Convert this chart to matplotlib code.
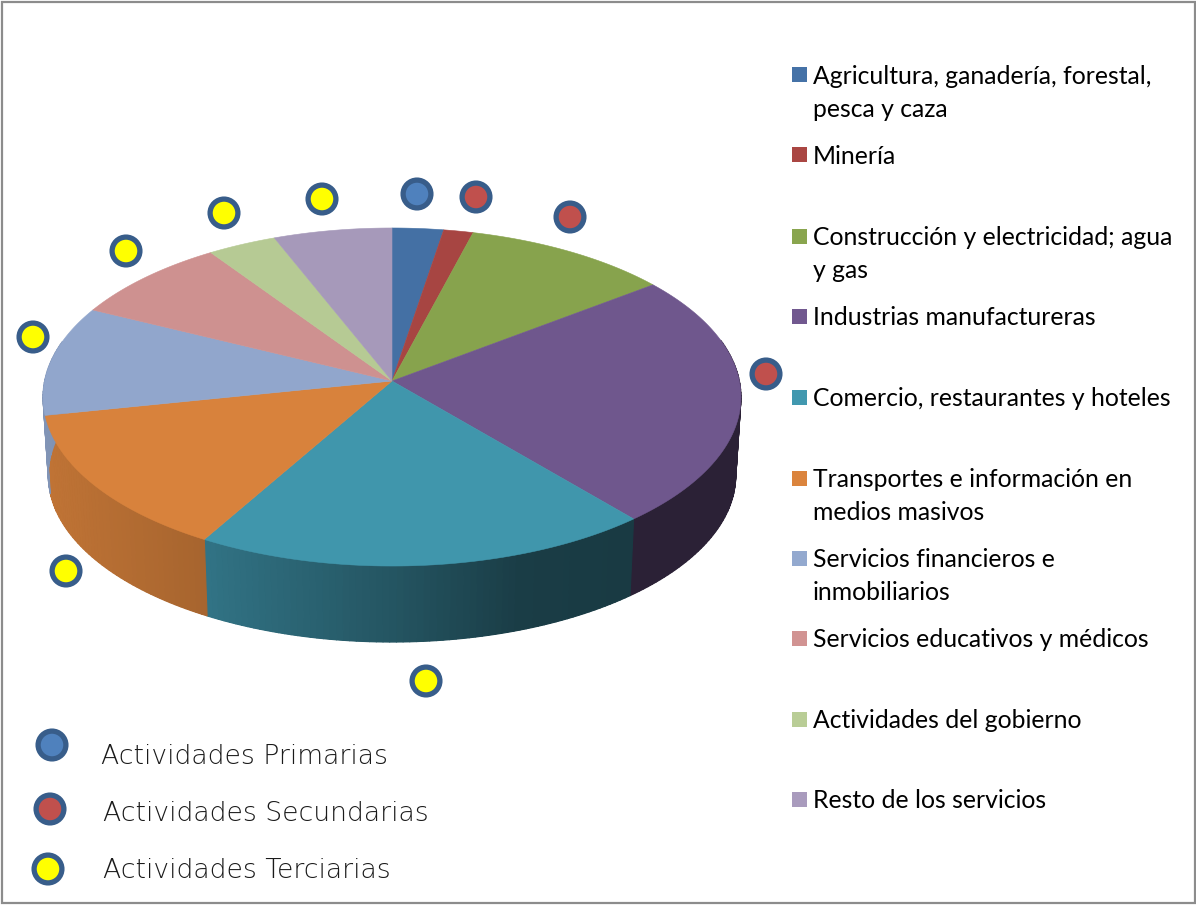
import numpy as np
import matplotlib
matplotlib.use("Agg")
import matplotlib.pyplot as plt
from matplotlib.patches import Polygon, Circle, Rectangle
from matplotlib.collections import PolyCollection
from matplotlib.colors import to_rgb

categories = ["Agricultura, ganadería, forestal,\npesca y caza", "Minería",
              "Construcción y electricidad; agua\ny gas", "Industrias manufactureras",
              "Comercio, restaurantes y hoteles", "Transportes e información en\nmedios masivos",
              "Servicios financieros e\ninmobiliarios", "Servicios educativos y médicos",
              "Actividades del gobierno", "Resto de los servicios"]
values = [2.6, 1.5, 10.5, 24.2, 19.4, 13.5, 10.5, 8.2, 3.5, 6.0]
colors = ["#4572A7", "#AA4643", "#89A54E", "#71588F", "#4198AF",
          "#DB843D", "#93A9CF", "#D19392", "#B9CD96", "#A99BBD"]
sector = ["P", "S", "S", "S", "T", "T", "T", "T", "T", "T"]
sector_names = ["Actividades Primarias", "Actividades Secundarias", "Actividades Terciarias"]
sector_colors = {"P": "#4F81BD", "S": "#C0504D", "T": "#FFFF00"}

fig = plt.figure(figsize=(11.96, 9.05), dpi=100)
ax = fig.add_axes([0, 0, 1, 1])
ax.set_xlim(0, 1196)
ax.set_ylim(905, 0)
ax.axis("off")

cx, cy, a, b, k = 392.0, 381.0, 347.4, 167.5, 0.0947
depth, shrink = 78.8, 0.985


def project(theta, lower=False):
    X, Y = np.sin(theta), np.cos(theta)
    w = 1 + k * Y
    sx, sy = a * X / w, -b * Y / w
    if lower:
        return cx + shrink * sx, cy + depth + shrink * sy
    return cx + sx, cy + sy


edges = np.concatenate([[0], np.cumsum(values)]) / np.sum(values) * 2 * np.pi

# side wall: an opaque underlay per slice, then the shaded strips on top of it
shade_x = [40, 205, 400, 520, 640, 745]
shade_v = [0.88, 0.76, 0.55, 0.40, 0.38, 0.38]
for i, col in enumerate(colors):
    n = max(2, int(np.degrees(edges[i + 1] - edges[i])))
    t = np.linspace(edges[i], edges[i + 1], n + 1)
    t = t[np.cos(t) < 0.25]
    if len(t) < 2:
        continue
    rgb = np.array(to_rgb(col))
    xt, yt = project(t)
    xb, yb = project(t, True)
    shades = np.interp((xt[:-1] + xt[1:]) / 2, shade_x, shade_v)
    mean_col = tuple(rgb * shades.mean())
    ax.add_patch(Polygon(np.column_stack([np.r_[xt, xb[::-1]], np.r_[yt, yb[::-1]]]),
                         closed=True, facecolor=mean_col, edgecolor="none", zorder=2))
    polys = [[(xt[j], yt[j]), (xt[j + 1], yt[j + 1]), (xb[j + 1], yb[j + 1]), (xb[j], yb[j])]
             for j in range(len(t) - 1)]
    fcs = [tuple(rgb * s) for s in shades]
    ax.add_collection(PolyCollection(polys, facecolors=fcs, edgecolors=fcs, linewidths=0.8, zorder=2.1))

# top face
for i, col in enumerate(colors):
    t = np.linspace(edges[i], edges[i + 1], 200)
    x, y = project(t)
    pts = np.column_stack([np.r_[cx, x], np.r_[cy, y]])
    fc = tuple(np.array(to_rgb(col)) * 0.985)
    ax.add_patch(Polygon(pts, closed=True, facecolor=fc, edgecolor=fc, linewidth=0.4, zorder=3))


def marker(x, y, fc):
    ax.add_patch(Circle((x, y), 13.9, facecolor=fc, edgecolor="#385D8A", linewidth=3.8, zorder=5))


marker_xy = [(417, 194), (476, 197), (570, 217), (766, 374), (426, 681),
             (66, 571), (33, 337), (126, 251), (224, 213), (322, 199)]
for (mx, my), s in zip(marker_xy, sector):
    marker(mx, my, sector_colors[s])

# right legend
legend_y = [75, 155, 236, 316, 397, 478, 558, 638, 719, 799]
for name, col, ly in zip(categories, colors, legend_y):
    ax.add_patch(Rectangle((792, ly - 7.5), 15, 15, facecolor=col, edgecolor="none", zorder=5))
    for j, line in enumerate(name.split("\n")):
        ax.text(813, ly + 8.6 + j * 33, line, fontsize=17.8, family="Lato", color="black",
                va="baseline", ha="left", zorder=6)

# sector legend
key_xy = [(52, 745), (50, 809), (48, 869)]
key_text = [(101, 764), (103, 821), (103, 878)]
for (mx, my), (tx, ty), nm, s in zip(key_xy, key_text, sector_names, "PST"):
    marker(mx, my, sector_colors[s])
    ax.text(tx, ty, nm, fontsize=19.2, family="DejaVu Sans", fontweight="light", color="#1A1A1A",
            va="baseline", ha="left", zorder=6)

# frame
ax.add_patch(Rectangle((1.5, 2), 1193, 901, facecolor="none", edgecolor="#8C8C8C", linewidth=1.6, zorder=7))

fig.savefig("out.png", dpi=100, facecolor="white")
